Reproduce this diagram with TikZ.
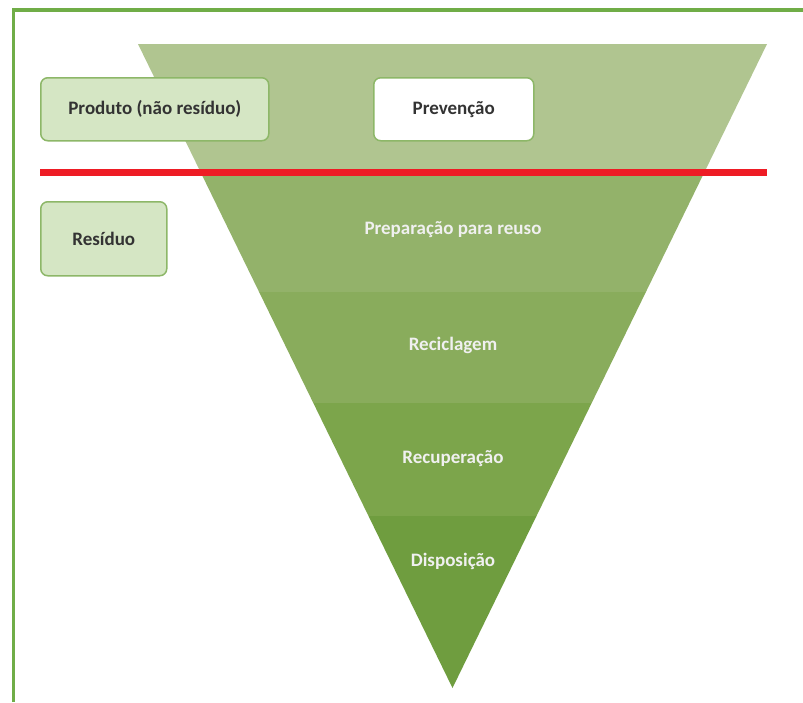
\documentclass[tikz,border=0pt]{standalone}
\usepackage{fontspec}
\setmainfont{Carlito}
\definecolor{frame}{HTML}{70AD47}
\definecolor{bandA}{HTML}{B0C590}
\definecolor{bandB}{HTML}{93B26A}
\definecolor{bandC}{HTML}{89AC5C}
\definecolor{bandD}{HTML}{7CA54B}
\definecolor{bandE}{HTML}{6F9D3F}
\definecolor{boxfill}{HTML}{D5E6C4}
\definecolor{boxline}{HTML}{8DB768}
\definecolor{redline}{HTML}{EE1C25}
\definecolor{txt}{HTML}{333333}
\begin{document}
\begin{tikzpicture}[x=1pt,y=-1pt,
  greenbox/.style={draw=boxline,line width=1.5pt,fill=boxfill,rounded corners=7pt,
    anchor=north west,inner sep=0pt,text=txt,font=\fontsize{19}{22}\selectfont\bfseries},
  bandlabel/.style={text=white!94!black,font=\fontsize{19}{22}\selectfont\bfseries}]
\useasboundingbox[fill=white] (0,0) rectangle (803,702);
% frame
\draw[frame,line width=3.5pt] (13.5,702) -- (13.5,10) -- (803,10);
% inverted triangle bands
\begin{scope}
\clip (138,44) -- (767,44) -- (452.5,688) -- cycle;
\fill[bandA] (100,44) rectangle (800,172);
\fill[bandB] (100,172) rectangle (800,292);
\fill[bandC] (100,292) rectangle (800,403);
\fill[bandD] (100,403) rectangle (800,516);
\fill[bandE] (100,516) rectangle (800,690);
\end{scope}
% red separator
\draw[redline,line width=7pt] (40,172) -- (767,172);
% boxes
\node[greenbox,minimum width=228pt,minimum height=63pt] (produto) at (40,77) {Produto (não resíduo)};
\node[greenbox,fill=white,minimum width=160pt,minimum height=63pt] (prevencao) at (373,77) {Prevenção};
\node[greenbox,minimum width=126pt,minimum height=74pt] (residuo) at (40,201) {Resíduo};
% band labels
\node[bandlabel] (reuso) at (453,230) {Preparação para reuso};
\node[bandlabel] (recicl) at (453,345) {Reciclagem};
\node[bandlabel] (recup) at (453,459) {Recuperação};
\node[bandlabel] (disp) at (453,561) {Disposição};
\end{tikzpicture}
\end{document}
